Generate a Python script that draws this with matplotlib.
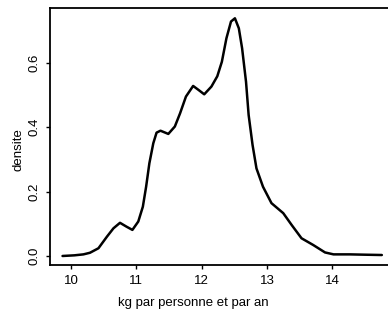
import numpy as np
import matplotlib
matplotlib.use("Agg")
import matplotlib.pyplot as plt

# densite (kg par personne et par an)
kg = [9.87, 10.05, 10.19, 10.29, 10.42, 10.55, 10.65, 10.75, 10.85, 10.94,
      11.03, 11.10, 11.15, 11.20, 11.26, 11.31, 11.37, 11.49, 11.59, 11.67,
      11.76, 11.87, 11.95, 12.04, 12.15, 12.24, 12.31, 12.38, 12.45, 12.51,
      12.57, 12.62, 12.68, 12.72, 12.78, 12.84, 12.94, 13.07, 13.25, 13.38,
      13.53, 13.71, 13.89, 14.02, 14.27, 14.50, 14.76]
densite = [0.000, 0.002, 0.005, 0.010, 0.024, 0.060, 0.086, 0.103, 0.091, 0.081,
           0.107, 0.153, 0.215, 0.288, 0.350, 0.383, 0.389, 0.379, 0.402, 0.443,
           0.495, 0.528, 0.516, 0.502, 0.526, 0.558, 0.603, 0.676, 0.728, 0.738,
           0.707, 0.645, 0.541, 0.438, 0.345, 0.272, 0.215, 0.164, 0.133, 0.096,
           0.055, 0.034, 0.011, 0.005, 0.005, 0.004, 0.003]
xticks = [10, 11, 12, 13, 14]
yticks = [0.0, 0.2, 0.4, 0.6]

plt.rcParams["font.family"] = "Liberation Sans"

fig = plt.figure(figsize=(3.88, 3.21), dpi=100)
ax = fig.add_axes([50 / 388, 56 / 321, 346 / 388, 257 / 321])
ax.plot(kg, densite, color="black", lw=1.8, solid_joinstyle="round", solid_capstyle="round")
ax.set_xlim(9.678, 14.977)
ax.set_ylim(-0.028, 0.770)
ax.set_xticks(xticks)
ax.set_xticklabels([str(t) for t in xticks])
ax.set_yticks(yticks)
ax.set_yticklabels([f"{t:.1f}" for t in yticks], rotation=90, va="center")
ax.tick_params(direction="out", length=3, width=1, labelsize=9.5, pad=4)
for s in ax.spines.values():
    s.set_linewidth(1.3)

fig.text(193 / 388, 1 - 303 / 321, "kg par personne et par an", ha="center", va="center", fontsize=9.5)
fig.text(19 / 388, 1 - 150 / 321, "densite", ha="center", va="center", rotation=90, fontsize=9.5)

fig.savefig("out.png", dpi=100)
